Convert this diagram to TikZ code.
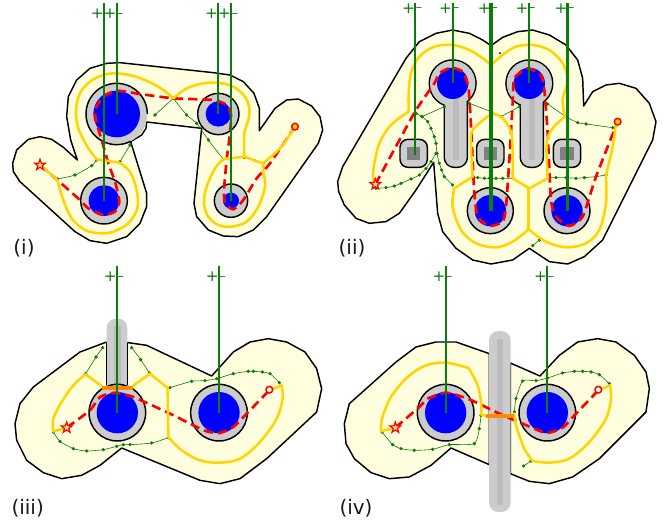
\documentclass[tikz,border=0pt]{standalone}
\usepackage{fontspec}
\setmainfont{DejaVu Sans}
\usetikzlibrary{shapes.geometric}
\definecolor{cream}{HTML}{FFFFDF}
\definecolor{ygold}{HTML}{FFD400}
\definecolor{gr}{HTML}{CCCCCC}
\definecolor{grd}{HTML}{BBBBBB}
\definecolor{grk}{HTML}{808080}
\definecolor{wgreen}{HTML}{0A7D0A}
\definecolor{oran}{HTML}{FF8C00}
\tikzset{
 x=0.25pt,y=-0.25pt,
 outl/.style={draw=black,fill=cream,line width=1.1pt,line join=round},
 yel/.style={draw=ygold,line width=1.9pt,line join=round,line cap=round},
 red/.style={draw=red,line width=2pt,dash pattern=on 7pt off 3.8pt,line join=round},
 gthin/.style={draw=wgreen,line width=0.45pt,mark=*,mark size=1pt,mark options={fill=wgreen,draw=wgreen}},
 wire/.style={draw=wgreen,line width=1.35pt},
 wireb/.style={draw=wgreen,line width=2.4pt},
 padrim/.style={draw=black,fill=gr,line width=1.1pt},
 padfill/.style={fill=blue},
 orbar/.style={draw=oran,line width=3pt},
 starmark/.style={star,star points=5,star point ratio=2.5,draw=red,fill=ygold!45,line width=0.9pt,minimum size=8.5pt,inner sep=0pt},
 ringmark/.style={circle,draw=red,fill=ygold,line width=1.1pt,minimum size=5pt,inner sep=0pt},
 signp/.style={text=wgreen,font=\fontsize{11.5}{12}\selectfont,inner sep=0pt,anchor=base},
 signm/.style={text=wgreen,font=\fontsize{9.5}{10}\selectfont,inner sep=0pt,anchor=base},
 panellabel/.style={font=\fontsize{15}{16}\selectfont,inner sep=0pt,text=black!90},
}
\newcommand{\ycurve}[1]{\draw[yel] plot[smooth,tension=.55] coordinates {#1};}
\newcommand{\rcurve}[1]{\draw[red] plot[smooth,tension=.35] coordinates {#1};}
\newcommand{\gcurve}[1]{\draw[gthin] plot[smooth,tension=.4] coordinates {#1};}
\newcommand{\bluedisc}[4]{\draw[padrim] (#1,#2) circle (#3); \fill[padfill] (#1,#2) circle (#4);}
\newcommand{\plusonly}[3]{\node[signp] (#1p) at (#2-20,#3+14) {+};}
\newcommand{\signs}[3]{\plusonly{#1}{#2}{#3}\node[signm] (#1m) at (#2+11,#3+10) {–};}
\begin{document}
\begin{tikzpicture}
\useasboundingbox (0,0) rectangle (2016,1569);
% ---------- panel i
\begin{scope}
\draw[outl] plot coordinates {(38,490)(50,450)(85,418)(120,410)(155,418)(190,442)(232,480)(212,420)(200,350)(205,290)(230,240)(270,205)(320,190)(360,188)(640,218)(690,225)(730,245)(762,280)(778,325)(778,392)(825,325)(860,300)(895,297)(935,318)(960,350)(968,390)(955,430)(800,650)(760,690)(715,710)(670,708)(625,690)(590,650)(582,610)(605,385)(440,366)(438,385)(425,405)(392,425)(440,580)(440,620)(420,670)(380,710)(320,730)(270,722)(225,695)(60,545)(40,515)} -- cycle;
\fill[gr] (350,342) circle (92);
\draw[black,line width=1.1pt] (442,342) arc[start angle=0,end angle=-297,radius=92];
\fill[padfill] (350,342) circle (70);
\bluedisc{655}{342}{62}{38}
\bluedisc{312}{602}{70}{46}
\bluedisc{693}{602}{50}{24}
\gcurve{(465,345)(520,295)}
\gcurve{(520,295)(560,345)(590,370)(625,420)(670,478)}
\gcurve{(360,485)(390,435)}
\gcurve{(172,537)(225,525)(275,497)(290,480)}
\gcurve{(733,472)(765,482)(790,490)}
\rcurve{(120,495)(172,540)(240,600)(265,625)(310,645)(345,635)(358,605)(345,545)(325,490)(305,420)(290,370)(285,330)(310,290)(350,272)(420,282)(520,295)(640,300)(680,315)(693,345)(690,400)(680,480)(672,570)(675,610)(700,628)(730,600)(770,535)(810,490)(885,380)}
\ycurve{(290,478)(262,440)(235,385)(228,330)(240,280)(270,245)(310,225)(350,220)(400,228)(450,247)(490,270)(520,295)}
\ycurve{(520,295)(555,268)(600,252)(650,248)(700,260)(735,290)(748,325)(745,360)(733,400)(733,470)}
\ycurve{(733,470)(670,477)}
\ycurve{(670,477)(645,505)(620,560)(612,610)(625,650)(655,675)(695,680)(740,665)(775,620)(795,560)(790,515)(788,490)}
\ycurve{(733,470)(788,490)}
\ycurve{(788,490)(840,445)(885,380)}
\ycurve{(290,478)(358,488)}
\ycurve{(358,488)(390,515)(410,570)(412,625)(385,670)(340,695)(300,700)(255,690)(215,655)(190,600)(172,540)}
\ycurve{(172,540)(120,495)}
\node[starmark] (s1) at (120,495) {};
\node[ringmark] (r1) at (885,380) {};
\draw[wire] (312,10) -- (312,602);
\draw[wire] (350,10) -- (350,342);
\draw[wire] (655,10) -- (655,342);
\draw[wire] (693,10) -- (693,602);
\plusonly{a}{312}{42}\signs{b}{350}{42}\plusonly{c}{655}{42}\signs{d}{693}{42}
\node[panellabel] (li) at (72,745) {(i)};
\end{scope}
% ---------- panel ii
\begin{scope}[xshift=252pt]
\draw[outl] plot coordinates {(5,545)(20,500)(210,175)(250,125)(300,100)(350,90)(400,100)(440,120)(465,137)(500,112)(545,95)(590,90)(640,105)(690,135)(725,180)(740,235)(743,318)(770,275)(810,255)(850,250)(900,265)(940,310)(960,365)(950,420)(800,720)(745,770)(695,792)(640,785)(580,745)(530,780)(465,792)(410,780)(360,745)(320,695)(305,640)(293,487)(240,570)(190,640)(150,665)(100,670)(60,655)(25,615)(8,575)} -- cycle;
\foreach \cx/\sx in {350/327,580/555}{
 \draw[black,line width=2.2pt] (\cx,250) circle (68);
 \draw[black,line width=2.2pt,rounded corners=7pt] (\sx,280) rectangle (\sx+65,500);
 \fill[gr] (\cx,250) circle (68);
 \fill[gr,rounded corners=7pt] (\sx,280) rectangle (\sx+65,500);
 \fill[grd] (\sx+23,290) rectangle (\sx+43,480);
 \fill[padfill] (\cx,250) circle (47);
}
\foreach \px in {233,463,693}{
 \draw[padrim,rounded corners=6pt] (\px-41,418) rectangle (\px+41,502);
 \fill[grk] (\px-20,440) rectangle (\px+20,480);
}
\bluedisc{463}{632}{69}{47}
\bluedisc{693}{632}{69}{47}
\gcurve{(120,565)(150,563)(175,558)(195,550)(225,537)(250,525)(270,505)(285,485)(300,460)}
\gcurve{(258,350)(275,365)(285,385)(295,410)(300,430)(303,460)(310,490)(317,510)(325,530)(350,555)}
\gcurve{(240,340)(258,350)}
\gcurve{(258,350)(325,320)}
\gcurve{(400,310)(465,335)(495,350)}
\gcurve{(495,350)(550,320)}
\gcurve{(635,312)(690,350)(725,368)(750,372)(830,383)}
\draw[gthin] plot coordinates {(410,533)(425,533)(445,535)(460,535)(480,535)(500,535)(530,535)};
\draw[gthin] plot coordinates {(640,533)(660,533)(690,533)(720,535)(745,533)(780,530)(810,525)};
\draw[gthin] plot coordinates {(590,737)(610,720)};
\fill[wgreen] (492,160) circle (4);
\rcurve{(118,553)(185,430)(240,330)(295,250)(310,220)(345,203)(380,215)(397,260)(403,340)(410,480)(415,580)(425,650)(460,678)(500,665)(510,620)(520,480)(530,310)(535,235)(575,205)(615,225)(625,270)(635,400)(645,600)(660,650)(700,678)(740,650)(780,530)(845,365)}
\ycurve{(218,335)(218,280)(225,220)(250,170)(295,140)(350,135)(400,150)(440,175)(465,195)}
\ycurve{(465,195)(500,165)(540,140)(590,135)(640,150)(680,190)(695,240)(680,300)(687,350)}
\ycurve{(465,195)(465,342)}
\ycurve{(218,335)(165,375)(130,430)(112,510)(115,555)}
\ycurve{(465,342)(410,390)(405,440)(410,530)}
\ycurve{(410,530)(355,565)}
\ycurve{(355,565)(350,620)(375,690)(420,730)(480,742)(530,725)(578,688)}
\ycurve{(578,688)(630,725)(690,742)(750,730)(790,690)(810,610)(810,525)}
\ycurve{(810,525)(830,440)(840,370)}
\ycurve{(465,342)(495,350)(525,395)(530,470)(530,535)}
\ycurve{(530,535)(580,565)}
\ycurve{(580,565)(635,535)}
\ycurve{(635,535)(632,430)(650,385)(687,350)}
\ycurve{(578,565)(578,688)}
\node[starmark] (s2) at (118,553) {};
\node[ringmark] (r2) at (845,365) {};
\draw[wire] (238,10) -- (238,465);
\draw[wire] (350,10) -- (350,250);
\draw[wireb] (465,10) -- (465,632);
\draw[wire] (578,10) -- (578,250);
\draw[wireb] (695,10) -- (695,632);
\signs{e}{238}{26}\signs{f}{349}{26}\signs{g}{465}{26}\signs{h}{578}{26}\signs{j}{695}{26}
\node[panellabel] (lii) at (48,745) {(ii)};
\end{scope}
% ---------- panel iii
\begin{scope}[yshift=-196.5pt]
\draw[outl] plot coordinates {(45,485)(60,425)(100,375)(160,330)(240,270)(320,240)(385,242)(440,250)(635,342)(700,270)(750,240)(805,230)(860,240)(915,270)(950,320)(965,380)(950,450)(800,590)(720,650)(660,665)(600,655)(365,558)(300,610)(245,640)(185,650)(130,632)(80,595)(50,535)} -- cycle;
\fill[gr,rounded corners=7pt] (320,170) rectangle (382,385);
\draw[black,line width=1.1pt] (320,242) -- (320,370);
\draw[black,line width=1.1pt] (382,242) -- (382,370);
\fill[grd] (342,192) rectangle (362,370);
\bluedisc{352}{452}{85}{62}
\bluedisc{657}{452}{85}{62}
\gcurve{(257,335)(288,285)(308,257)}
\gcurve{(395,257)(422,293)(448,333)}
\gcurve{(510,377)(575,358)(615,356)(650,350)(700,335)(745,328)(760,328)(787,330)(810,335)(838,362)}
\gcurve{(505,527)(455,543)(390,548)(370,548)(350,553)(310,563)(260,567)(220,560)(180,538)(160,510)}
\rcurve{(200,497)(270,445)(300,405)(345,392)(400,405)(510,455)(580,490)(620,508)(660,513)(700,495)(740,455)(808,385)}
\ycurve{(160,508)(160,470)(185,420)(220,370)(257,337)}
\ycurve{(257,337)(305,372)}
\ycurve{(398,372)(450,335)}
\ycurve{(450,335)(503,378)}
\ycurve{(503,378)(505,525)}
\ycurve{(505,525)(545,565)(600,595)(660,602)(720,590)(780,540)(830,470)(848,410)(845,370)}
\ycurve{(845,370)(808,385)}
\ycurve{(160,508)(200,497)}
\draw[orbar] (305,378) -- (398,378);
\node[starmark] (s3) at (200,497) {};
\node[ringmark,fill=cream] (r3) at (808,383) {};
\draw[wire] (351,12) -- (351,452);
\draw[wire] (657,12) -- (657,452);
\signs{k}{351}{45}\signs{l}{657}{45}
\node[panellabel] (liii) at (83,740) {(iii)};
\end{scope}
% ---------- panel iv
\begin{scope}[xshift=252pt,yshift=-196.5pt]
\draw[outl] plot coordinates {(25,485)(40,425)(85,385)(180,300)(240,255)(300,240)(360,240)(460,275)(460,608)(345,558)(285,610)(220,645)(160,650)(105,632)(55,590)(30,545)} -- cycle;
\draw[outl] plot coordinates {(523,303)(612,342)(670,280)(725,240)(785,230)(840,240)(895,280)(930,330)(940,380)(930,450)(790,590)(710,645)(640,665)(580,658)(523,635)} -- cycle;
\fill[gr,rounded corners=7pt] (459,207) rectangle (524,750);
\fill[grd] (482,230) rectangle (500,728);
\bluedisc{329}{452}{85}{62}
\bluedisc{634}{452}{85}{62}
\gcurve{(138,510)(170,548)(195,560)(235,565)(290,562)(340,548)(415,545)(430,500)(435,460)}
\gcurve{(535,450)(540,410)(560,357)(600,356)(635,348)(680,333)(715,328)(740,328)(765,330)(790,338)(820,365)}
\gcurve{(563,612)(585,597)}
\rcurve{(178,497)(250,435)(275,410)(330,392)(400,412)(490,455)(560,485)(630,513)(680,497)(720,455)(787,385)}
\ycurve{(135,508)(138,470)(165,405)(215,345)(270,310)(330,302)(398,318)}
\ycurve{(398,318)(425,370)(435,420)(436,458)}
\ycurve{(436,458)(450,462)}
\ycurve{(135,508)(178,497)}
\ycurve{(535,455)(540,490)(565,560)(590,597)}
\ycurve{(590,597)(640,602)(700,590)(760,540)(810,470)(825,410)(822,370)}
\ycurve{(822,370)(787,385)}
\draw[orbar] (450,462) -- (535,462);
\node[starmark] (s4) at (178,497) {};
\node[ringmark,fill=cream] (r4) at (787,383) {};
\draw[wire] (329,12) -- (329,452);
\draw[wire] (634,12) -- (634,452);
\signs{m}{329}{45}\signs{n}{634}{45}
\node[panellabel] (liv) at (60,738) {(iv)};
\end{scope}
\end{tikzpicture}
\end{document}
